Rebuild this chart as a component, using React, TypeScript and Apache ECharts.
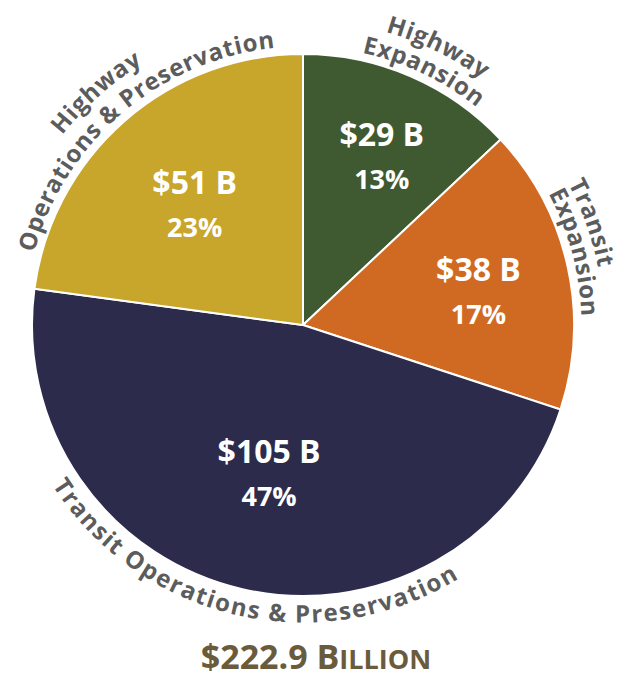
import React, { useEffect, useRef } from 'react';
import * as echarts from 'echarts';

// ---- data ----
const categories = [
  'Highway Expansion',
  'Transit Expansion',
  'Transit Operations & Preservation',
  'Highway Operations & Preservation',
];
const values = [29, 38, 105, 51];
const valueLabels = ['$29 B', '$38 B', '$105 B', '$51 B'];
const percentLabels = ['13%', '17%', '47%', '23%'];
const outerLabelLines = [
  ['Highway', 'Expansion'],
  ['Transit', 'Expansion'],
  ['Transit Operations & Preservation'],
  ['Highway', 'Operations & Preservation'],
];
const totalLabelBig = '$222.9 B';
const totalLabelSmall = 'ILLION';

// ---- styles / layout ----
const colors = ['#3f5a31', '#d06a22', '#2c2b4c', '#c8a52b'];
const CX = 303;
const CY = 325;
const R = 271;
const innerLabelRadius = [0.69, 0.66, 0.56, 0.6];
const innerLabelAngleShift = [1.5, 1.3, 0, -0.6];
// angle shift (deg) per label line: [line1, line2]
const outerLabelAngleShift = [[2.5, 2], [-7, -2.5], [0, 0], [-0.5, 0.8]];
const outerLabelBottom = [false, false, true, false];
const LINE1_R = [314, 310, 314, 316];
const LINE2_R = 288;
const BOTTOM_R = 288;
const LABEL_FONT = 'bold 24px "Open Sans"';
const LETTER_SPACING = 1.2;
const LABEL_COLOR = '#5c5c5c';
const TITLE_BIG_FONT = 'bold 34px "Open Sans"';
const TITLE_SMALL_FONT = 'bold 27px "Open Sans"';
const TITLE_COLOR = '#6b5b3d';

let measureCtx: CanvasRenderingContext2D | null = null;
function measure(ch: string, font: string): number {
  if (!measureCtx) {
    measureCtx = document.createElement('canvas').getContext('2d');
  }
  measureCtx!.font = font;
  return measureCtx!.measureText(ch).width;
}

function arcText(text: string, centerDeg: number, radius: number, bottom: boolean): any[] {
  const chars = Array.from(text);
  const widths = chars.map((c) => measure(c, LABEL_FONT));
  const total = widths.reduce((a, b) => a + b, 0) + LETTER_SPACING * (chars.length - 1);
  const c0 = (centerDeg * Math.PI) / 180;
  const els: any[] = [];
  let s = -total / 2;
  chars.forEach((ch, i) => {
    const mid = s + widths[i] / 2;
    const ang = c0 + ((bottom ? -1 : 1) * mid) / radius;
    const x = CX + radius * Math.sin(ang);
    const y = CY - radius * Math.cos(ang);
    const rot = bottom ? Math.PI - ang : -ang;
    if (ch !== ' ') {
      els.push({
        type: 'text',
        x,
        y,
        z: 100,
        rotation: rot,
        silent: true,
        style: {
          text: ch,
          font: LABEL_FONT,
          fill: LABEL_COLOR,
          textAlign: 'center',
          textVerticalAlign: 'middle',
        },
      });
    }
    s += widths[i] + LETTER_SPACING;
  });
  return els;
}

export default function App() {
  const ref = useRef<HTMLDivElement>(null);
  useEffect(() => {
    document.body.style.margin = '0';
    const chart = echarts.init(ref.current!, null, { renderer: 'svg' });
    const sum = values.reduce((a, b) => a + b, 0);
    let acc = 0;
    const mids = values.map((v) => {
      const m = ((acc + v / 2) / sum) * 360;
      acc += v;
      return m;
    });

    const graphics: any[] = [];
    mids.forEach((m, i) => {
      // inner labels
      const a = ((m + innerLabelAngleShift[i]) * Math.PI) / 180;
      const rr = innerLabelRadius[i] * R;
      const x = CX + rr * Math.sin(a);
      const y = CY - rr * Math.cos(a);
      graphics.push({
        type: 'text',
        x,
        y: y - 22,
        z: 100,
        silent: true,
        style: {
          text: valueLabels[i],
          font: 'bold 32px "Open Sans"',
          fill: '#ffffff',
          textAlign: 'center',
          textVerticalAlign: 'middle',
        },
      });
      graphics.push({
        type: 'text',
        x,
        y: y + 23,
        z: 100,
        silent: true,
        style: {
          text: percentLabels[i],
          font: 'bold 27px "Open Sans"',
          fill: '#ffffff',
          textAlign: 'center',
          textVerticalAlign: 'middle',
        },
      });
      // outer curved labels
      const lines = outerLabelLines[i];
      const sh = outerLabelAngleShift[i];
      if (outerLabelBottom[i]) {
        graphics.push(...arcText(lines[0], m + sh[0], BOTTOM_R, true));
      } else if (lines.length === 2) {
        graphics.push(...arcText(lines[0], m + sh[0], LINE1_R[i], false));
        graphics.push(...arcText(lines[1], m + sh[1], LINE2_R, false));
      } else {
        graphics.push(...arcText(lines[0], m + sh[0], LINE2_R, false));
      }
    });

    // total title: big part + small caps part, centred together
    const wBig = measure(totalLabelBig, TITLE_BIG_FONT);
    const wSmall = measure(totalLabelSmall, TITLE_SMALL_FONT);
    const titleCx = 316;
    const left = titleCx - (wBig + wSmall) / 2;
    graphics.push({
      type: 'text',
      x: left,
      y: 656,
      z: 100,
      silent: true,
      style: {
        text: totalLabelBig,
        font: TITLE_BIG_FONT,
        fill: TITLE_COLOR,
        textAlign: 'left',
        textVerticalAlign: 'middle',
      },
    });
    graphics.push({
      type: 'text',
      x: left + wBig,
      y: 658,
      z: 100,
      silent: true,
      style: {
        text: totalLabelSmall,
        font: TITLE_SMALL_FONT,
        fill: TITLE_COLOR,
        textAlign: 'left',
        textVerticalAlign: 'middle',
      },
    });

    chart.setOption({
      animation: false,
      backgroundColor: '#ffffff',
      series: [
        {
          type: 'pie',
          center: [CX, CY],
          radius: [0, R],
          startAngle: 90,
          clockwise: true,
          label: { show: false },
          labelLine: { show: false },
          silent: true,
          itemStyle: { borderColor: '#ffffff', borderWidth: 2 },
          data: categories.map((name, i) => ({
            name,
            value: values[i],
            itemStyle: { color: colors[i] },
          })),
        },
      ],
      graphic: graphics,
    });
    return () => chart.dispose();
  }, []);
  return <div ref={ref} style={{ width: 624, height: 678 }} />;
}
